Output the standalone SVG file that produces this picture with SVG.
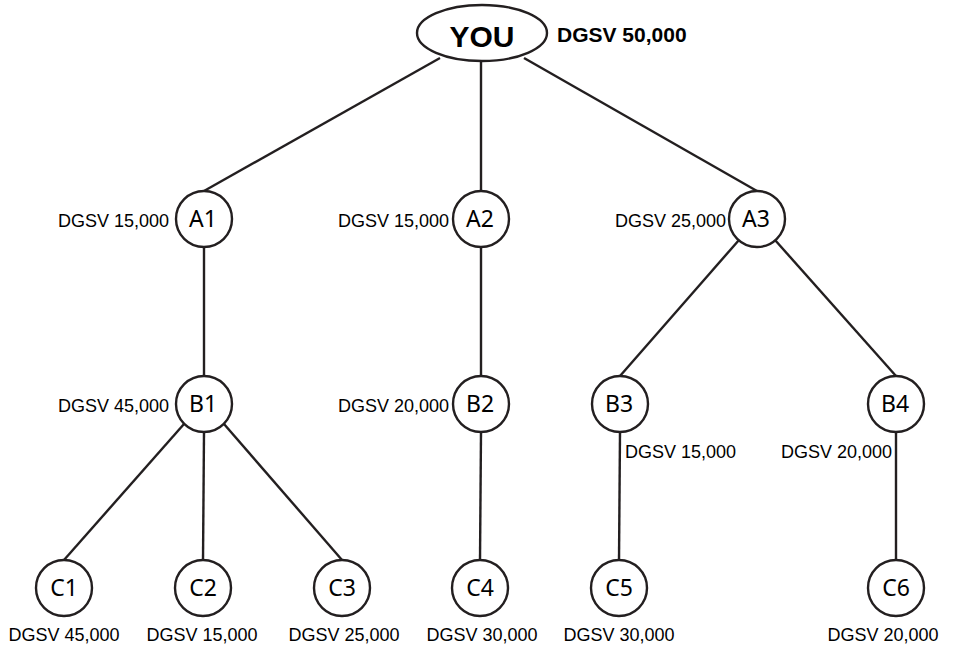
<svg xmlns="http://www.w3.org/2000/svg" width="954" height="649" viewBox="0 0 954 649">
<style>
.n{fill:#fff;stroke:#231f20;stroke-width:2.4}
.e{stroke:#231f20;stroke-width:2.4;fill:none}
.t{font-family:"Noto Sans","Liberation Sans",sans-serif;font-size:23px;fill:#000;text-anchor:middle}
.l{font-family:"Liberation Sans",Arial,sans-serif;font-size:18px;fill:#000}
.c{text-anchor:middle}
.r{text-anchor:end}
</style>
<rect width="954" height="649" fill="#fff"/>
<g id="connectors">
<line class="e" x1="440" y1="58" x2="204" y2="191"/>
<line class="e" x1="481" y1="61" x2="481" y2="191"/>
<line class="e" x1="524" y1="58" x2="757" y2="191"/>
<line class="e" x1="204" y1="247" x2="204" y2="376"/>
<line class="e" x1="481" y1="247" x2="481" y2="376"/>
<line class="e" x1="739" y1="240" x2="620" y2="376"/>
<line class="e" x1="775" y1="240" x2="896" y2="376"/>
<line class="e" x1="184" y1="424" x2="64" y2="560"/>
<line class="e" x1="204" y1="432" x2="203" y2="560"/>
<line class="e" x1="224" y1="424" x2="342" y2="560"/>
<line class="e" x1="481" y1="432" x2="480" y2="560"/>
<line class="e" x1="620" y1="432" x2="619" y2="560"/>
<line class="e" x1="896" y1="432" x2="896" y2="560"/>
</g>
<g id="YOU">
<ellipse class="n" cx="482" cy="33" rx="65" ry="28"/>
<text x="482" y="47" font-family="Liberation Sans,Arial,sans-serif" font-size="30" font-weight="bold" text-anchor="middle">YOU</text>
<text x="557" y="42" font-family="Liberation Sans,Arial,sans-serif" font-size="21" font-weight="bold">DGSV 50,000</text>
</g>
<g id="A1"><circle class="n" cx="204" cy="219" r="28"/><text class="t" x="203" y="227">A1</text><text class="l r" x="169" y="227">DGSV 15,000</text></g>
<g id="A2"><circle class="n" cx="481" cy="219" r="28"/><text class="t" x="480" y="227">A2</text><text class="l r" x="449" y="227">DGSV 15,000</text></g>
<g id="A3"><circle class="n" cx="757" cy="219" r="28"/><text class="t" x="756" y="227">A3</text><text class="l r" x="726" y="227">DGSV 25,000</text></g>
<g id="B1"><circle class="n" cx="204" cy="404" r="28"/><text class="t" x="203" y="412">B1</text><text class="l r" x="169" y="412">DGSV 45,000</text></g>
<g id="B2"><circle class="n" cx="481" cy="404" r="28"/><text class="t" x="480" y="412">B2</text><text class="l r" x="449" y="412">DGSV 20,000</text></g>
<g id="B3"><circle class="n" cx="620" cy="404" r="28"/><text class="t" x="619" y="412">B3</text><text class="l" x="625" y="458">DGSV 15,000</text></g>
<g id="B4"><circle class="n" cx="896" cy="404" r="28"/><text class="t" x="895" y="412">B4</text><text class="l r" x="892" y="458">DGSV 20,000</text></g>
<g id="C1"><circle class="n" cx="64" cy="588" r="28"/><text class="t" x="64" y="596">C1</text><text class="l c" x="64" y="641">DGSV 45,000</text></g>
<g id="C2"><circle class="n" cx="203" cy="588" r="28"/><text class="t" x="203" y="596">C2</text><text class="l c" x="202" y="641">DGSV 15,000</text></g>
<g id="C3"><circle class="n" cx="342" cy="588" r="28"/><text class="t" x="342" y="596">C3</text><text class="l c" x="344" y="641">DGSV 25,000</text></g>
<g id="C4"><circle class="n" cx="480" cy="588" r="28"/><text class="t" x="480" y="596">C4</text><text class="l c" x="482" y="641">DGSV 30,000</text></g>
<g id="C5"><circle class="n" cx="619" cy="588" r="28"/><text class="t" x="619" y="596">C5</text><text class="l c" x="619" y="641">DGSV 30,000</text></g>
<g id="C6"><circle class="n" cx="896" cy="588" r="28"/><text class="t" x="896" y="596">C6</text><text class="l c" x="883" y="641">DGSV 20,000</text></g>
</svg>
